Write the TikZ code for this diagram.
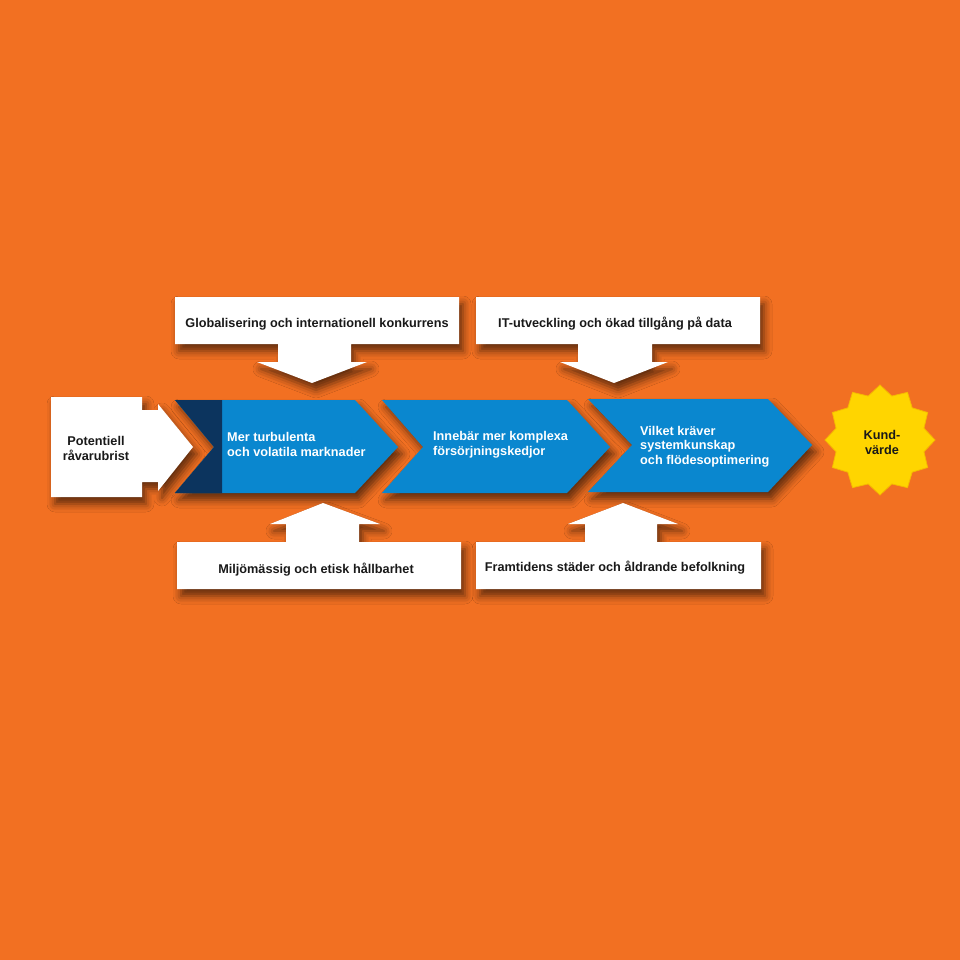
\documentclass[tikz,border=0pt]{standalone}
\usepackage{fontspec}
\setmainfont{Liberation Sans}
\usetikzlibrary{shadows.blur}
\definecolor{bg}{RGB}{242,112,34}
\definecolor{chev}{RGB}{10,135,207}
\definecolor{navy}{RGB}{12,52,94}
\definecolor{starfill}{RGB}{255,213,0}
\definecolor{stardraw}{RGB}{245,185,0}
\definecolor{ink}{RGB}{25,25,25}
\begin{document}
\begin{tikzpicture}[x=1pt,y=-1pt,
  sh/.style={blur shadow={shadow xshift=4pt, shadow yshift=-7pt, shadow blur radius=8pt, shadow opacity=60}},
  wshape/.style={fill=white, sh},
  cshape/.style={fill=chev, sh},
  lbl/.style={font=\bfseries\fontsize{12.7}{14.5}\selectfont, inner sep=0pt, text=ink},
  wlbl/.style={lbl, text=white, align=left, anchor=base west}]
\fill[bg] (0,0) rectangle (960,960);
\useasboundingbox (0,0) rectangle (960,960);

% chevrons
\path[cshape] (175,400) -- (355,400) -- (398,447) -- (355,493) -- (175,493) -- (214,447) -- cycle;
\fill[navy] (175,400) -- (222,400) -- (222,493) -- (175,493) -- (214,447) -- cycle;
\path[cshape] (382,400) -- (567,400) -- (610,447) -- (567,493) -- (382,493) -- (423,447) -- cycle;
\path[cshape] (588,399) -- (768,399) -- (812,445) -- (768,492) -- (588,492) -- (632,445) -- cycle;

% left white arrow
\path[wshape] (51,397) -- (142,397) -- (142,410) -- (158,410) -- (158,404) -- (193,447)
  -- (158,491) -- (158,482) -- (142,482) -- (142,497) -- (51,497) -- cycle;

% top arrows
\path[wshape] (175,297) -- (459,297) -- (459,344) -- (351,344) -- (351,362) -- (367,362)
  -- (312,383) -- (257,362) -- (278,362) -- (278,344) -- (175,344) -- cycle;
\path[wshape] (476,297) -- (760,297) -- (760,344) -- (652,344) -- (652,362) -- (668,362)
  -- (614,383) -- (560,362) -- (578,362) -- (578,344) -- (476,344) -- cycle;

% bottom arrows
\path[wshape] (177,589) -- (461,589) -- (461,542) -- (359,542) -- (359,524) -- (380,524)
  -- (323,503) -- (270,524) -- (286,524) -- (286,542) -- (177,542) -- cycle;
\path[wshape] (476,589) -- (761,589) -- (761,542) -- (657,542) -- (657,524) -- (678,524)
  -- (623,503) -- (568,524) -- (585,524) -- (585,542) -- (476,542) -- cycle;

% star
\begin{scope}[shift={(880,440)}]
\draw[fill=starfill, draw=stardraw, line width=0.8pt, line join=miter] (90:55)
  \foreach \i in {1,...,23} { -- ({90+\i*15}:{ifthenelse(mod(\i,2)==0,55,45.5)}) } -- cycle;
\end{scope}

% labels
\node[lbl, anchor=base] (glob) at (317,327) {Globalisering och internationell konkurrens};
\node[lbl, anchor=base] (it) at (615,327) {IT-utveckling och ökad tillgång på data};
\node[lbl, anchor=base] (miljo) at (316,573) {Miljömässig och etisk hållbarhet};
\node[lbl, anchor=base] (fram) at (615,571) {Framtidens städer och åldrande befolkning};
\node[lbl, align=center, anchor=base] (pot) at (96,460) {Potentiell\\råvarubrist};
\node[wlbl] (mer) at (227,456) {Mer turbulenta\\och volatila marknader};
\node[wlbl] (inne) at (433,455) {Innebär mer komplexa\\försörjningskedjor};
\node[wlbl] (vilk) at (640,464) {Vilket kräver\\systemkunskap\\och flödesoptimering};
\node[lbl, align=center, anchor=base] (kund) at (882,454) {Kund-\\värde};
\end{tikzpicture}
\end{document}
